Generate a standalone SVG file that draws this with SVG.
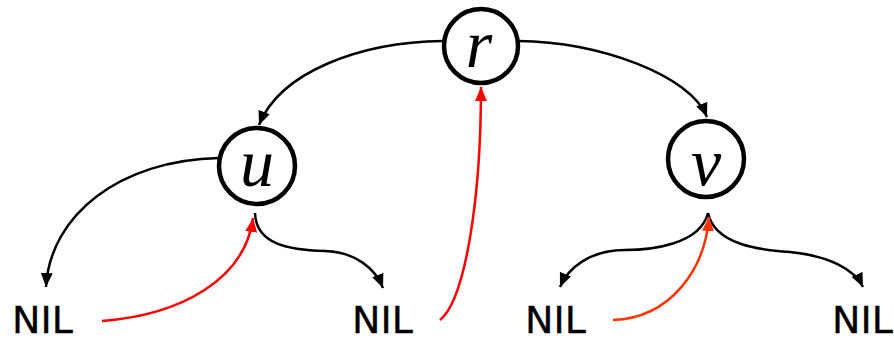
<svg xmlns="http://www.w3.org/2000/svg" width="894" height="341" viewBox="0 0 894 341">
<defs>
<marker id="ab" viewBox="0 0 14 12" refX="14" refY="6" markerWidth="14" markerHeight="12" markerUnits="userSpaceOnUse" orient="auto"><path d="M0,0 L14,6 L0,12 Z" fill="#000"/></marker>
<marker id="ar" viewBox="0 0 14 12" refX="14" refY="6" markerWidth="14" markerHeight="12" markerUnits="userSpaceOnUse" orient="auto"><path d="M0,0 L14,6 L0,12 Z" fill="#ff0000"/></marker>
<marker id="ao" viewBox="0 0 14 12" refX="14" refY="6" markerWidth="14" markerHeight="12" markerUnits="userSpaceOnUse" orient="auto"><path d="M0,0 L14,6 L0,12 Z" fill="#ff3300"/></marker>
</defs>
<style>
.node{fill:#fff;stroke:#000;stroke-width:4.5}
.lbl{font-family:'Liberation Serif','Times New Roman','DejaVu Serif',serif;font-style:italic;font-size:68px;fill:#000;text-anchor:middle}
.nil{font-family:'Comic Sans MS','DejaVu Sans',sans-serif;font-size:38px;fill:#000;stroke:#000;stroke-width:0.3}
.e{fill:none;stroke:#000;stroke-width:2.5;marker-end:url(#ab)}
.r{fill:none;stroke:#ff0000;stroke-width:2.5;marker-end:url(#ar)}
.o{fill:none;stroke:#ff3300;stroke-width:2.5;marker-end:url(#ao)}
</style>
<g id="connectors">
<path class="e" d="M443,41 C360,42 280,72 259,125"/>
<path class="e" d="M518,41 C600,42 690,75 707,117"/>
<path class="e" d="M219,158 C120,160 50,215 46,287"/>
<path class="e" d="M255,213 C256,245 290,250 325,251 C355,252 375,268 383,288"/>
<path class="r" d="M102,321 C180,315 245,280 253,218"/>
<path class="r" d="M440,320 C465,300 481,200 481,87"/>
<path class="e" d="M708,213 C700,245 650,250 625,250 C590,250 568,268 560,287"/>
<path class="e" d="M708,213 C715,245 760,250 790,252 C830,256 855,270 863,287"/>
<path class="o" d="M613,320 C670,318 705,270 709,217"/>
</g>
<g id="node-r"><circle class="node" cx="481" cy="46" r="37"/><text class="lbl" x="479" y="67">r</text></g>
<g id="node-u"><circle class="node" cx="257" cy="166" r="38"/><text class="lbl" x="257" y="186">u</text></g>
<g id="node-v"><circle class="node" cx="706" cy="159" r="38"/><text class="lbl" x="706" y="185">v</text></g>
<g id="nil1"><text class="nil" x="12" y="333">NIL</text></g>
<g id="nil2"><text class="nil" x="352" y="333">NIL</text></g>
<g id="nil3"><text class="nil" x="525" y="333">NIL</text></g>
<g id="nil4"><text class="nil" x="832" y="333">NIL</text></g>
</svg>
